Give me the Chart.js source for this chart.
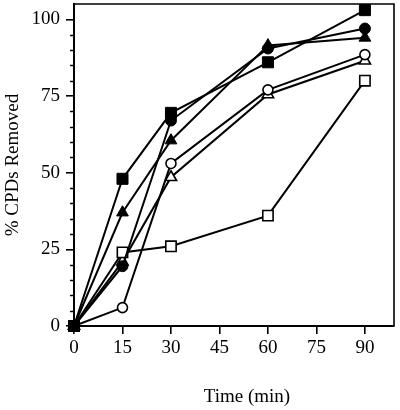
<!DOCTYPE html>
<html><head><meta charset="utf-8">
<script src="https://cdn.jsdelivr.net/npm/chart.js@4.4.1/dist/chart.umd.min.js"></script>
<style>html,body{margin:0;padding:0;background:#fff}#wrap{width:400px;height:410px}</style>
</head><body><div id="wrap"><canvas id="c" width="400" height="410"></canvas></div>
<script>
const times = [0, 15, 30, 60, 90];
const filledSquare = [0, 48, 69.5, 86, 103];
const filledCircle = [0, 19.5, 67, 90.5, 97];
const filledTriangle = [0, 37, 60.5, 91.5, 94];
const openCircle = [0, 6, 53, 77, 88.5];
const openTriangle = [0, 21, 48.5, 75.5, 86.5];
const openSquare = [0, 24, 26, 36, 80];
const xTicks = [0, 15, 30, 45, 60, 75, 90];
const yTicks = [0, 25, 50, 75, 100];
const yMinorTicks = [5, 10, 15, 20, 30, 35, 40, 45, 55, 60, 65, 70, 80, 85, 90, 95];
const xTitle = 'Time (min)';
const yTitle = '% CPDs Removed';

const FONT = '"Liberation Serif", "Times New Roman", serif';
const pts = arr => times.map((t, i) => ({x: t, y: arr[i]}));

function ds(label, arr, style, radius, filled, order) {
  return {
    label, data: pts(arr), order,
    borderColor: '#000', borderWidth: 2, tension: 0, fill: false,
    pointStyle: style, pointRadius: radius, pointHoverRadius: radius,
    pointBackgroundColor: filled ? '#000' : '#fff',
    pointBorderColor: '#000', pointBorderWidth: filled ? 1 : 1.6,
    clip: false
  };
}

const framePlugin = {
  id: 'frame',
  afterDraw(chart) {
    const {ctx, chartArea: a, scales} = chart;
    ctx.save();
    ctx.strokeStyle = '#000';
    ctx.lineWidth = 1.6;
    ctx.beginPath();
    ctx.moveTo(a.left, a.top); ctx.lineTo(a.right, a.top); ctx.lineTo(a.right, a.bottom);
    ctx.stroke();
    ctx.lineWidth = 1.5;
    yMinorTicks.forEach(v => {
      const y = Math.round(scales.y.getPixelForValue(v)) + 0.5;
      ctx.beginPath(); ctx.moveTo(a.left - 4, y); ctx.lineTo(a.left, y); ctx.stroke();
    });
    ctx.fillStyle = '#000';
    ctx.font = '19px ' + FONT;
    ctx.textAlign = 'center';
    ctx.textBaseline = 'middle';
    ctx.fillText(xTitle, (a.left + a.right) / 2 + 13, 397);
    ctx.restore();
  }
};

new Chart(document.getElementById('c'), {
  type: 'line',
  data: {
    datasets: [
      ds('filled square', filledSquare, 'rect', 7.8, true, 0),
      ds('filled circle', filledCircle, 'circle', 5.5, true, 1),
      ds('filled triangle', filledTriangle, 'triangle', 6.8, true, 2),
      ds('open square', openSquare, 'rect', 7.3, false, 3),
      ds('open circle', openCircle, 'circle', 5, false, 4),
      ds('open triangle', openTriangle, 'triangle', 6.5, false, 5)
    ]
  },
  options: {
    responsive: false, animation: false, events: [], devicePixelRatio: 1,
    layout: {autoPadding: false, padding: {top: 4, right: 6, left: 0, bottom: 0}},
    plugins: {legend: {display: false}, tooltip: {enabled: false}},
    scales: {
      x: {
        type: 'linear', min: 0, max: 99,
        afterFit: s => { s.height = 84; s.paddingLeft = 0; s.paddingRight = 0; },
        afterBuildTicks: s => { s.ticks = xTicks.map(v => ({value: v})); },
        grid: {drawOnChartArea: false, drawTicks: true, tickLength: 8, color: '#000', lineWidth: 1.6},
        border: {display: true, color: '#000', width: 2},
        ticks: {color: '#000', font: {family: FONT, size: 19}, padding: 3, maxRotation: 0, autoSkip: false},
        title: {display: false}
      },
      y: {
        type: 'linear', min: 0, max: 105,
        afterFit: s => { s.width = 74; s.paddingTop = 0; s.paddingBottom = 0; },
        afterBuildTicks: s => { s.ticks = yTicks.map(v => ({value: v})); },
        grid: {drawOnChartArea: false, drawTicks: true, tickLength: 8, color: '#000', lineWidth: 1.6},
        border: {display: true, color: '#000', width: 2},
        ticks: {color: '#000', font: {family: FONT, size: 19}, padding: 6, autoSkip: false},
        title: {display: true, text: yTitle, color: '#000', font: {family: FONT, size: 19}, padding: {top: 2, bottom: 0}}
      }
    }
  },
  plugins: [framePlugin]
});
</script>
</body></html>
